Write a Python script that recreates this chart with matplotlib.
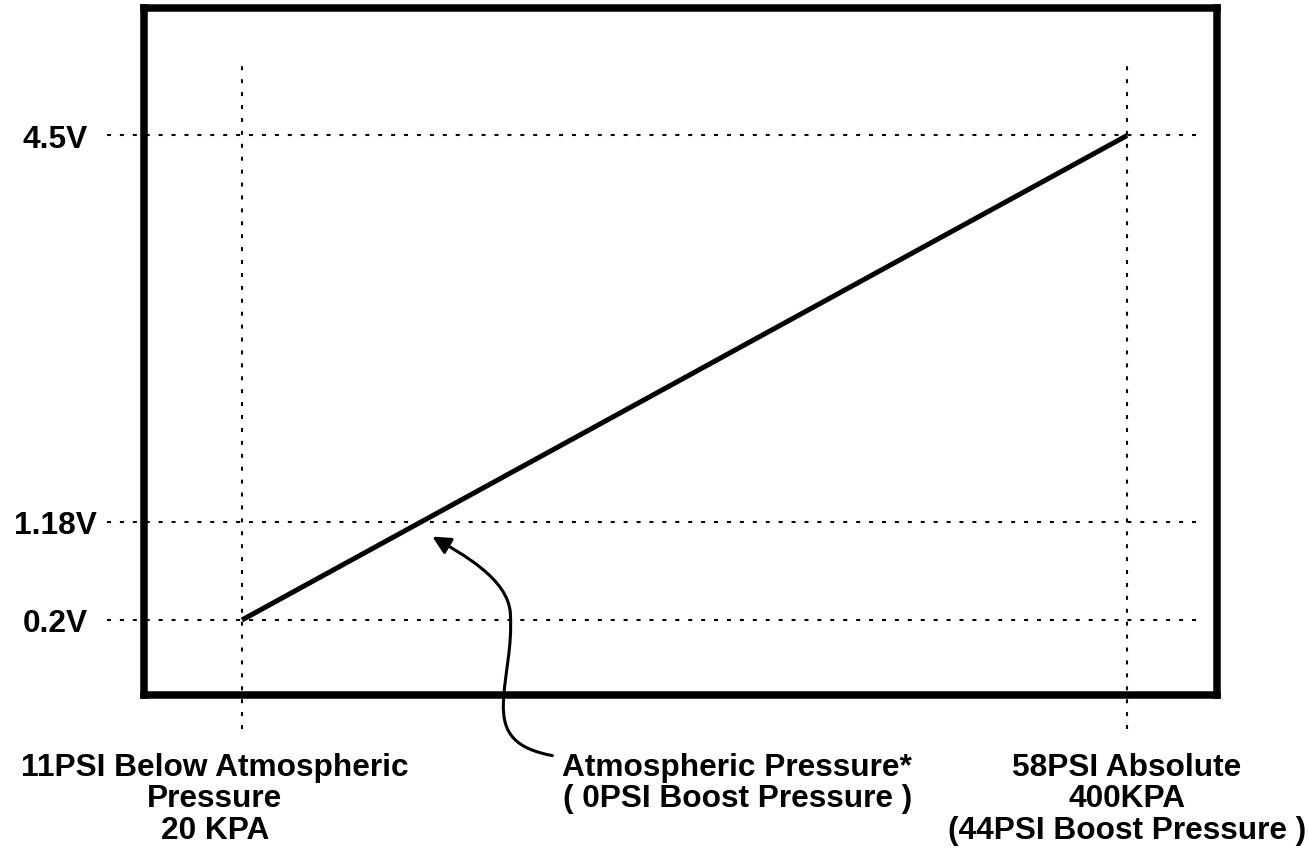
import numpy as np
import matplotlib
matplotlib.use("Agg")
import matplotlib.pyplot as plt
from matplotlib.path import Path
from matplotlib.patches import FancyArrowPatch
from matplotlib.transforms import Affine2D, ScaledTranslation

# ---- data ----
pressure_kpa = [20, 400]
sensor_volts = [0.2, 4.5]
atm_kpa = 101.3
atm_volts = 1.18
grid_kpa = [20, 400]
grid_volts = [0.2, 1.18, 4.5]
volt_labels = ["0.2V", "1.18V", "4.5V"]
bottom_labels = [
    "11PSI Below Atmospheric\nPressure\n20 KPA",
    "Atmospheric Pressure*\n( 0PSI Boost Pressure )",
    "58PSI Absolute\n400KPA\n(44PSI Boost Pressure )",
]

plt.rcParams['font.family'] = ['Liberation Sans', 'DejaVu Sans']
FS = 22.75

# the original drawing is schematic: voltage axis is not to scale
v_anchor = [-2, 0.2, 1.18, 4.5, 8]
px_anchor = [-220.7, 0, 98.3, 484.3, 891.4]

def fwd(v):
    return np.interp(v, v_anchor, px_anchor)

def inv(p):
    return np.interp(p, px_anchor, v_anchor)

fig = plt.figure(figsize=(13.09, 8.54), dpi=100)
ax = fig.add_axes([143.5 / 1309, (854 - 696) / 854, 1073.5 / 1309, 687.5 / 854])
ax.set_yscale('function', functions=(fwd, inv))
ax.set_xlim(-22.3, 438.6)
ax.set_ylim(-0.548, 5.60)

for s in ax.spines.values():
    s.set_linewidth(5.4)
    s.set_capstyle('projecting')

dots = (0, (1.9, 4.3))
for x in grid_kpa:
    ax.axvline(x, ymin=-0.0495, ymax=0.918, color='k', lw=1.5, ls=dots, clip_on=False)
for v in grid_volts:
    ax.axhline(v, xmin=-0.034, xmax=0.981, color='k', lw=1.5, ls=dots, clip_on=False)

ax.plot(pressure_kpa, sensor_volts, color='k', lw=3.6, solid_capstyle='butt')

ax.set_xticks([])
ax.set_yticks(grid_volts, volt_labels, fontsize=FS, fontweight='bold')
ax.yaxis.set_minor_locator(matplotlib.ticker.NullLocator())
ax.tick_params(axis='y', length=0, pad=63.7)
for lbl in ax.get_yticklabels():
    lbl.set_horizontalalignment('center')

label_x = [0.0666, 0.553, 0.916]
for x, txt in zip(label_x, bottom_labels):
    ax.text(x, -0.0825, txt, transform=ax.transAxes, ha='center', va='top',
            fontsize=FS, fontweight='bold', linespacing=1.07, multialignment='center')

# curved arrow from middle label up to the atmospheric point (pixel offsets, y down)
verts = [(121, 234), (84, 227), (71, 212), (72, 182),
         (73, 152), (81, 127), (79, 92),
         (77, 57), (30, 32), (1, 15)]
codes = [Path.MOVETO] + [Path.CURVE4] * 9
arrow_tr = Affine2D().scale(1, -1) + ScaledTranslation(atm_kpa, atm_volts, ax.transData)
arrow = FancyArrowPatch(path=Path(verts, codes), arrowstyle='-|>', mutation_scale=27,
                        lw=2.2, color='k', transform=arrow_tr)
arrow.set_clip_on(False)
ax.add_artist(arrow)

fig.savefig("out.png", dpi=100)
